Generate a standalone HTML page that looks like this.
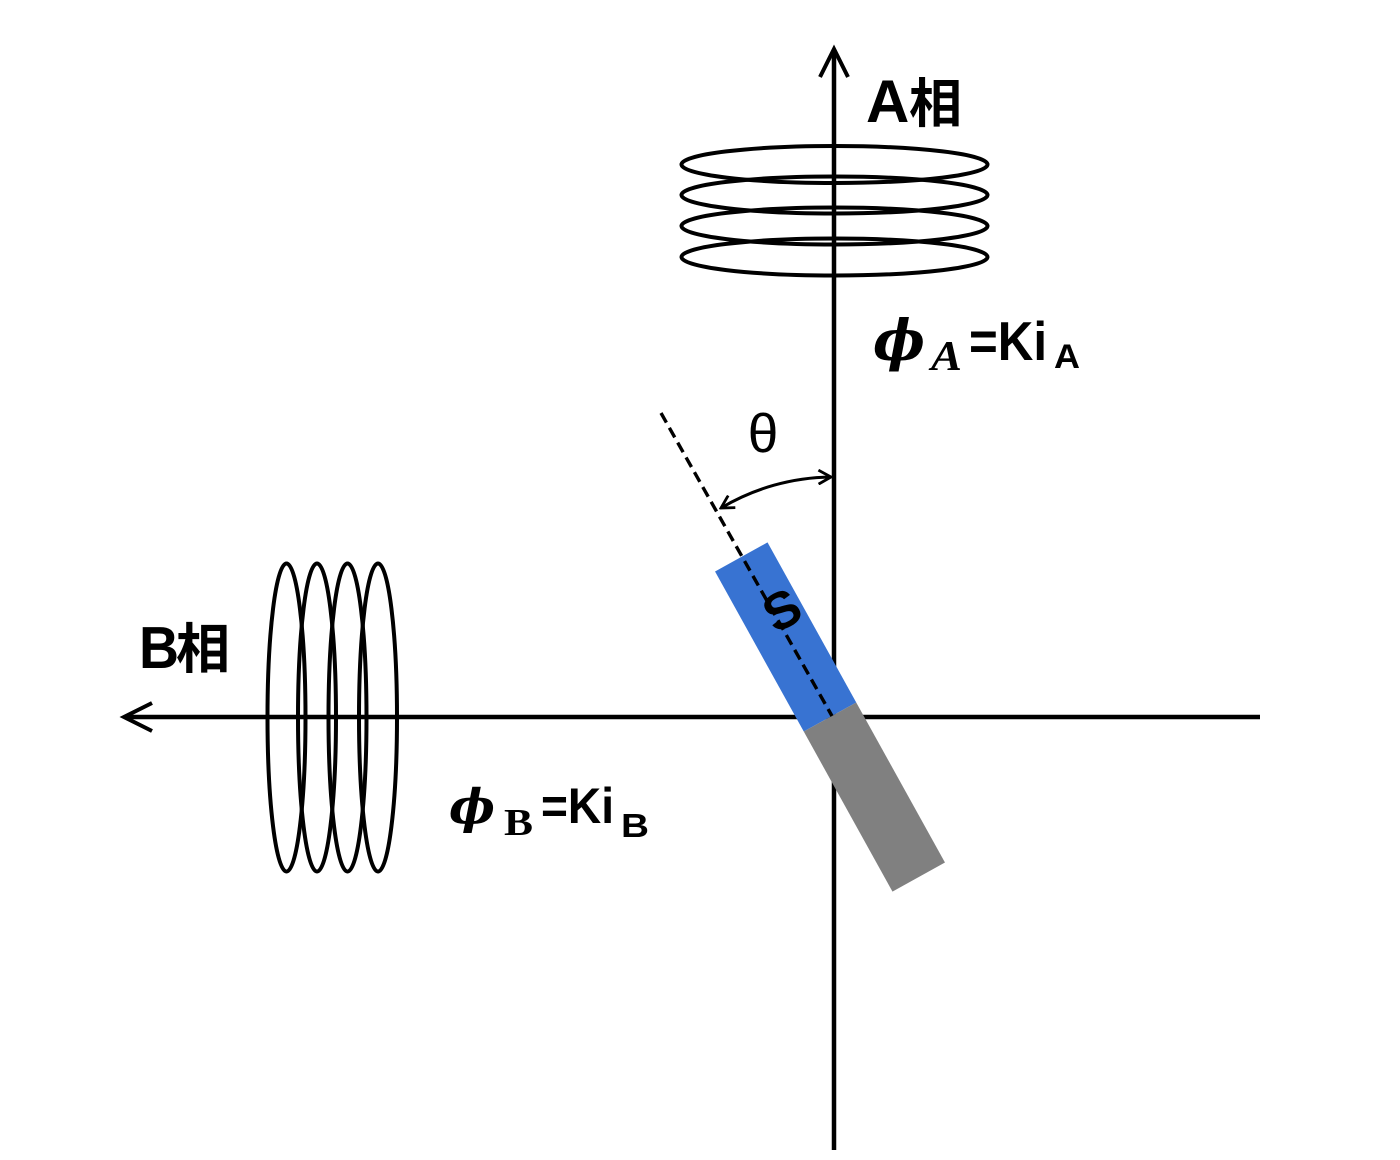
<!DOCTYPE html>
<html>
<head>
<meta charset="utf-8">
<style>
html,body{margin:0;padding:0;background:#fff;}
svg{display:block;}
</style>
</head>
<body>
<svg width="1400" height="1160" viewBox="0 0 1400 1160" xmlns="http://www.w3.org/2000/svg">
<defs>
<marker id="ah" viewBox="0 0 16 16" refX="14" refY="8" markerWidth="16" markerHeight="16" markerUnits="userSpaceOnUse" orient="auto-start-reverse">
<path d="M1.5 1 L14 8 L1.5 15" fill="none" stroke="#000" stroke-width="2.8" stroke-linejoin="miter"/>
</marker>
</defs>
<rect width="1400" height="1160" fill="#fff"/>

<!-- axes -->
<line x1="834" y1="50" x2="834" y2="1150" stroke="#000" stroke-width="4.5"/>
<polyline points="820,77 834,49 848,77" fill="none" stroke="#000" stroke-width="4" stroke-linejoin="miter"/>
<line x1="125" y1="717" x2="1260" y2="717" stroke="#000" stroke-width="4.5"/>
<polyline points="152,703 124,717 152,731" fill="none" stroke="#000" stroke-width="4" stroke-linejoin="miter"/>

<!-- A coils -->
<g fill="none" stroke="#000" stroke-width="4">
<ellipse cx="834.5" cy="164.5" rx="153" ry="18.5"/>
<ellipse cx="834.5" cy="195" rx="153" ry="18.5"/>
<ellipse cx="834.5" cy="226" rx="153" ry="18.5"/>
<ellipse cx="834.5" cy="257" rx="153" ry="18.5"/>
</g>

<!-- B coils -->
<g fill="none" stroke="#000" stroke-width="4">
<ellipse cx="286.5" cy="717.5" rx="19" ry="154"/>
<ellipse cx="317" cy="717.5" rx="19" ry="154"/>
<ellipse cx="347.5" cy="717.5" rx="19" ry="154"/>
<ellipse cx="378" cy="717.5" rx="19" ry="154"/>
</g>

<!-- magnet -->
<g transform="rotate(-29 830 717)">
<rect x="800" y="534" width="60" height="183" fill="#3873d2"/>
<rect x="800" y="717" width="60" height="183" fill="#808080"/>
</g>

<!-- S label -->
<text x="782" y="628" transform="rotate(-29 782 610)" text-anchor="middle" font-family="Liberation Sans, sans-serif" font-weight="bold" font-size="52" fill="#000">S</text>

<!-- dashed axis -->
<line x1="661" y1="413" x2="832" y2="716" stroke="#000" stroke-width="3.4" stroke-dasharray="11 6"/>

<!-- theta arc -->
<path d="M721 508 A220 220 0 0 1 831 477" fill="none" stroke="#000" stroke-width="3" marker-start="url(#ah)" marker-end="url(#ah)"/>
<text x="763" y="452" text-anchor="middle" font-family="Liberation Sans, DejaVu Sans, sans-serif" font-size="55" fill="#000">θ</text>

<!-- A相 -->
<text y="122" font-family="Liberation Sans, 'Noto Sans CJK JP', sans-serif" font-weight="bold" fill="#000"><tspan x="866" font-size="60">A</tspan><tspan x="909" font-size="53">相</tspan></text>

<!-- B相 -->
<text x="139" y="668" font-family="Liberation Sans, sans-serif" font-weight="bold" font-size="59" textLength="40" lengthAdjust="spacingAndGlyphs" fill="#000">B</text>
<text x="176" y="668" font-family="'Noto Sans CJK JP', sans-serif" font-weight="bold" font-size="54" fill="#000">相</text>

<!-- φA = KiA -->
<text x="873" y="360" font-family="'DejaVu Serif', 'Liberation Serif', serif" font-weight="bold" font-style="italic" font-size="56" textLength="52" lengthAdjust="spacingAndGlyphs" fill="#000">ϕ</text>
<text x="931" y="370" font-family="'Liberation Serif', serif" font-weight="bold" font-style="italic" font-size="42" textLength="31" lengthAdjust="spacingAndGlyphs" fill="#000">A</text>
<text x="969" y="360" font-family="'Liberation Sans', sans-serif" font-weight="bold" font-size="55" textLength="78" lengthAdjust="spacingAndGlyphs" fill="#000">=Ki</text>
<text x="1054" y="368" font-family="'Liberation Sans', sans-serif" font-weight="bold" font-size="34" textLength="26" lengthAdjust="spacingAndGlyphs" fill="#000">A</text>

<!-- φB = KiB -->
<text x="449" y="823" font-family="'DejaVu Serif', 'Liberation Serif', serif" font-weight="bold" font-style="italic" font-size="48" textLength="46" lengthAdjust="spacingAndGlyphs" fill="#000">ϕ</text>
<text x="504" y="835" font-family="'Liberation Serif', serif" font-weight="bold" font-size="38" textLength="29" lengthAdjust="spacingAndGlyphs" fill="#000">B</text>
<text x="541" y="823" font-family="'Liberation Sans', sans-serif" font-weight="bold" font-size="50" textLength="73" lengthAdjust="spacingAndGlyphs" fill="#000">=Ki</text>
<text x="621" y="837" font-family="'Liberation Sans', sans-serif" font-weight="bold" font-size="33" textLength="28" lengthAdjust="spacingAndGlyphs" fill="#000">B</text>
</svg>
</body>
</html>
